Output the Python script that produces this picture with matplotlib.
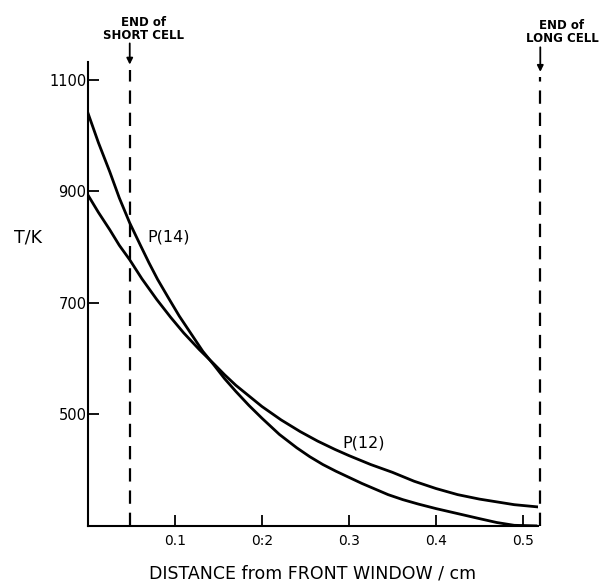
import matplotlib
matplotlib.use('Agg')
import matplotlib.pyplot as plt

plt.rcParams['font.family'] = ['DejaVu Sans']

# Temperature profiles
x_p14 = [0.0, 0.012, 0.025, 0.036, 0.048, 0.060, 0.070, 0.080, 0.092, 0.105,
         0.120, 0.132, 0.145, 0.157, 0.170, 0.185, 0.200, 0.220, 0.240,
         0.255, 0.270, 0.285, 0.300, 0.315, 0.330, 0.345, 0.362, 0.380,
         0.400, 0.425, 0.450, 0.470, 0.490, 0.515]
t_p14 = [1040, 987, 935, 888, 843, 804, 772, 742, 710, 676,
         641, 613, 588, 564, 541, 516, 493, 464, 440,
         424, 410, 398, 387, 376, 366, 356, 347, 339,
         331, 322, 313, 306, 301, 300]

x_p12 = [0.0, 0.012, 0.025, 0.036, 0.048, 0.062, 0.079, 0.095, 0.110, 0.128,
         0.145, 0.157, 0.170, 0.185, 0.200, 0.222, 0.244, 0.264, 0.284,
         0.300, 0.325, 0.350, 0.375, 0.400, 0.425, 0.450, 0.470, 0.490, 0.517]
t_p12 = [893, 862, 831, 803, 777, 743, 706, 674, 646, 616,
         590, 571, 552, 533, 514, 490, 469, 452, 437,
         426, 410, 396, 380, 367, 356, 348, 343, 338, 334]

short_cell = 0.048
long_cell = 0.52

x_ticks = [0.1, 0.2, 0.3, 0.4, 0.5]
x_tick_labels = ['0.1', '0:2', '0.3', '0.4', '0.5']
y_ticks = [500, 700, 900, 1100]

fig = plt.figure(figsize=(6.11, 5.83), dpi=100)
ax = fig.add_axes([0.144, 0.098, 0.736, 0.796])

ax.plot(x_p14, t_p14, color='black', linewidth=2.0, solid_joinstyle='round')
ax.plot(x_p12, t_p12, color='black', linewidth=2.0, solid_joinstyle='round')

ax.plot([short_cell, short_cell], [300, 1118], color='black', linewidth=1.6,
        dashes=(6, 4), clip_on=False)
ax.plot([long_cell, long_cell], [300, 1104], color='black', linewidth=1.6,
        dashes=(6, 4), clip_on=False)

ax.set_xlim(0, 0.517)
ax.set_ylim(300, 1132)

for side in ['top', 'right']:
    ax.spines[side].set_visible(False)
for side in ['left', 'bottom']:
    ax.spines[side].set_linewidth(1.5)

ax.set_xticks(x_ticks)
ax.set_xticklabels(x_tick_labels, fontsize=10)
ax.set_yticks(y_ticks)
ax.set_yticklabels([str(v) for v in y_ticks], fontsize=10.5)
ax.tick_params(axis='both', direction='in', length=8, width=1.3)
ax.tick_params(axis='y', pad=1)
ax.tick_params(axis='x', pad=6)

ax.set_xlabel('DISTANCE from FRONT WINDOW / cm', fontsize=12.5, labelpad=12)
ax.text(-0.085, 817, 'T/K', fontsize=12.5, ha='left', va='center')

ax.text(0.068, 817, 'P(14)', fontsize=11.5, ha='left', va='center')
ax.text(0.293, 449, 'P(12)', fontsize=11.5, ha='left', va='center')

# cell end markers
ax.text(0.064, 1191, 'END of\nSHORT CELL', fontsize=8.5, fontweight='bold',
        ha='center', va='center', linespacing=1.0)
ax.annotate('', xy=(short_cell, 1127), xytext=(short_cell, 1165),
            arrowprops=dict(arrowstyle='-|>', color='black', lw=1.3,
                            mutation_scale=9, shrinkA=0, shrinkB=0),
            annotation_clip=False)

ax.text(0.545, 1186, 'END of\nLONG CELL', fontsize=8.5, fontweight='bold',
        ha='center', va='center', linespacing=1.0)
ax.annotate('', xy=(long_cell, 1114), xytext=(long_cell, 1158),
            arrowprops=dict(arrowstyle='-|>', color='black', lw=1.3,
                            mutation_scale=9, shrinkA=0, shrinkB=0),
            annotation_clip=False)

fig.savefig('out.png', dpi=100)
